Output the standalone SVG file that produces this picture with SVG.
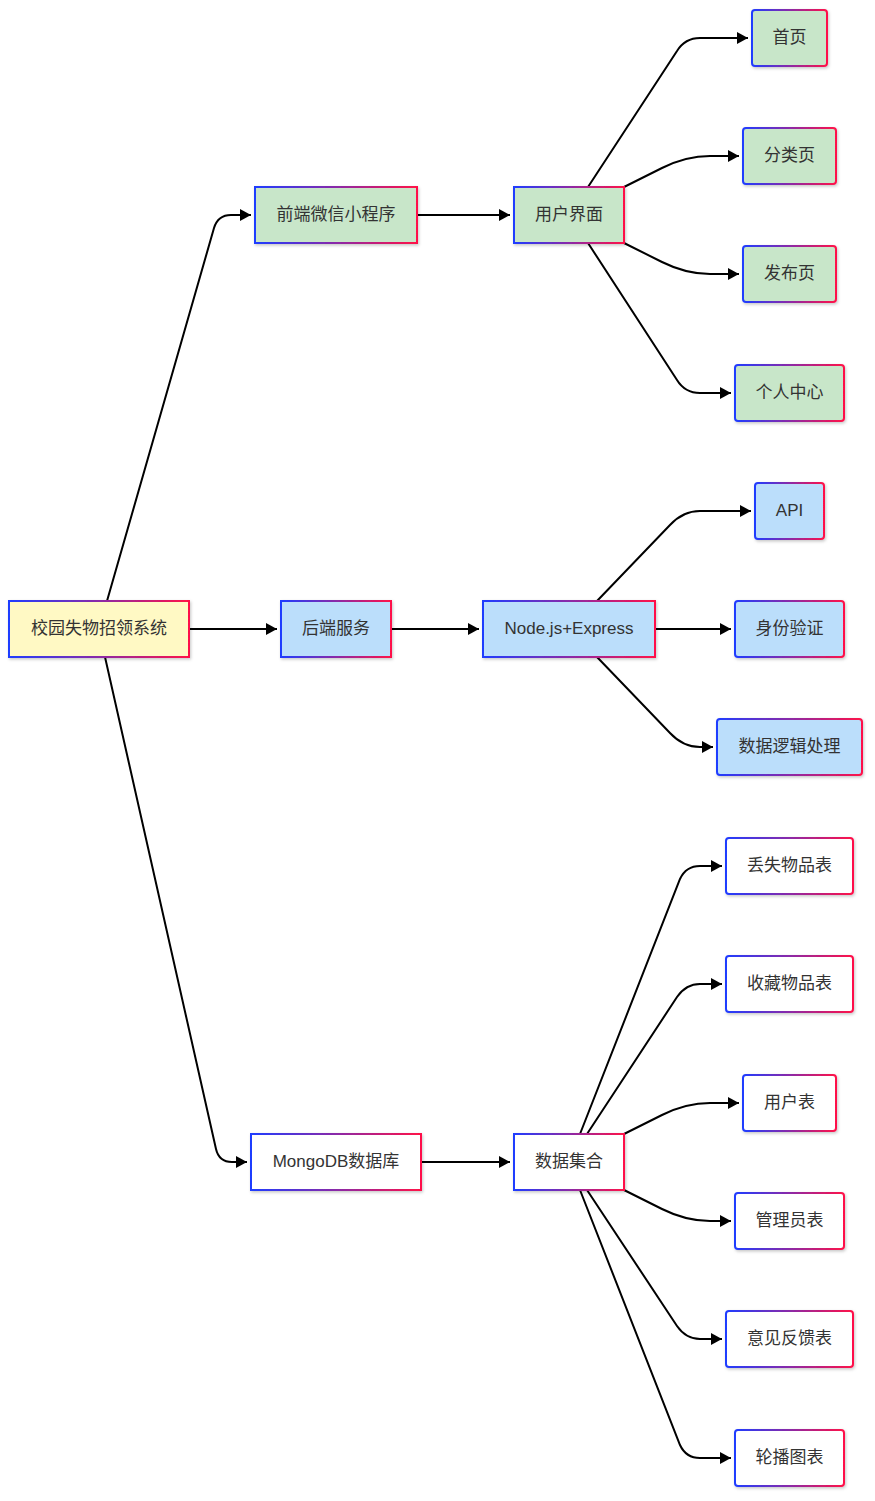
<svg xmlns="http://www.w3.org/2000/svg" width="875" height="1501" viewBox="0 0 875 1501">
<defs>
<linearGradient id="bd" x1="0" y1="0" x2="1" y2="0">
<stop offset="0" stop-color="#1f3cff"/>
<stop offset="0.5" stop-color="#8a2aa8"/>
<stop offset="1" stop-color="#ff1148"/>
</linearGradient>
<filter id="sh" x="-10%" y="-20%" width="130%" height="150%">
<feDropShadow dx="1" dy="1.5" stdDeviation="1.5" flood-color="#000" flood-opacity="0.22"/>
</filter>
<marker id="ar" markerUnits="userSpaceOnUse" markerWidth="13" markerHeight="13" refX="11" refY="6" orient="auto">
<path d="M0,0 L11,6 L0,12 z" fill="#000"/>
</marker>
</defs>
<style>
rect{stroke:url(#bd);stroke-width:2;filter:url(#sh)}
.g{fill:#c8e6c9}.b{fill:#bbdefb}.y{fill:#fff9c4}.w{fill:#ffffff}
text{font-family:"Liberation Sans","Noto Sans CJK SC",sans-serif;font-size:17px;fill:#333;text-anchor:middle;dominant-baseline:central}
#edges path{fill:none;stroke:#000;stroke-width:2;marker-end:url(#ar)}
</style>
<rect width="875" height="1501" fill="#fff" style="stroke:none;filter:none"/>
<g id="edges">
<path d="M107,601 L214,228 Q218,215 231,215 L251,215"/>
<path d="M189,629 L277,629"/>
<path d="M105,657 L216,1149 Q219,1162 232,1162 L247,1162"/>
<path d="M417,215 L510,215"/>
<path d="M588,187 L677,51 Q685,38 700,38 L748,38"/>
<path d="M624,187 L662,168 Q686,156 710,156 L739,156"/>
<path d="M624,243 L662,262 Q686,274 710,274 L739,274"/>
<path d="M588,243 L677,380 Q685,393 700,393 L731,393"/>
<path d="M391,629 L479,629"/>
<path d="M597,601 L670,525 Q683,511 700,511 L751,511"/>
<path d="M655,629 L731,629"/>
<path d="M597,657 L670,733 Q683,747 700,747 L713,747"/>
<path d="M421,1162 L510,1162"/>
<path d="M580,1134 L680,879 Q686,866 700,866 L722,866"/>
<path d="M587,1134 L677,997 Q686,984 700,984 L722,984"/>
<path d="M624,1134 L662,1115 Q686,1103 710,1103 L739,1103"/>
<path d="M624,1190 L662,1209 Q686,1221 710,1221 L731,1221"/>
<path d="M587,1190 L677,1326 Q686,1339 700,1339 L722,1339"/>
<path d="M580,1190 L680,1445 Q686,1458 700,1458 L731,1458"/>
</g>
<g id="root"><rect class="y" x="9" y="601" width="180" height="56"/><text x="99" y="628">校园失物招领系统</text></g>
<g id="frontend"><rect class="g" x="255" y="187" width="162" height="56"/><text x="336" y="214">前端微信小程序</text></g>
<g id="ui"><rect class="g" x="514" y="187" width="110" height="56"/><text x="569" y="214">用户界面</text></g>
<g id="home"><rect class="g" x="752" y="10" width="75" height="56" rx="3"/><text x="789.5" y="37">首页</text></g>
<g id="category"><rect class="g" x="743" y="128" width="93" height="56" rx="3"/><text x="789.5" y="155">分类页</text></g>
<g id="publish"><rect class="g" x="743" y="246" width="93" height="56" rx="3"/><text x="789.5" y="273">发布页</text></g>
<g id="profile"><rect class="g" x="735" y="365" width="109" height="56" rx="3"/><text x="789.5" y="392">个人中心</text></g>
<g id="backend"><rect class="b" x="281" y="601" width="110" height="56"/><text x="336" y="628">后端服务</text></g>
<g id="node"><rect class="b" x="483" y="601" width="172" height="56"/><text x="569" y="628">Node.js+Express</text></g>
<g id="api"><rect class="b" x="755" y="483" width="69" height="56" rx="3"/><text x="789.5" y="510">API</text></g>
<g id="auth"><rect class="b" x="735" y="601" width="109" height="56" rx="3"/><text x="789.5" y="628">身份验证</text></g>
<g id="logic"><rect class="b" x="717" y="719" width="145" height="56" rx="3"/><text x="789.5" y="746">数据逻辑处理</text></g>
<g id="mongo"><rect class="w" x="251" y="1134" width="170" height="56"/><text x="336" y="1161">MongoDB数据库</text></g>
<g id="collections"><rect class="w" x="514" y="1134" width="110" height="56"/><text x="569" y="1161">数据集合</text></g>
<g id="lost"><rect class="w" x="726" y="838" width="127" height="56" rx="3"/><text x="789.5" y="865">丢失物品表</text></g>
<g id="fav"><rect class="w" x="726" y="956" width="127" height="56" rx="3"/><text x="789.5" y="983">收藏物品表</text></g>
<g id="users"><rect class="w" x="743" y="1075" width="93" height="56" rx="3"/><text x="789.5" y="1102">用户表</text></g>
<g id="admins"><rect class="w" x="735" y="1193" width="109" height="56" rx="3"/><text x="789.5" y="1220">管理员表</text></g>
<g id="feedback"><rect class="w" x="726" y="1311" width="127" height="56" rx="3"/><text x="789.5" y="1338">意见反馈表</text></g>
<g id="banner"><rect class="w" x="735" y="1430" width="109" height="56" rx="3"/><text x="789.5" y="1457">轮播图表</text></g>
</svg>
